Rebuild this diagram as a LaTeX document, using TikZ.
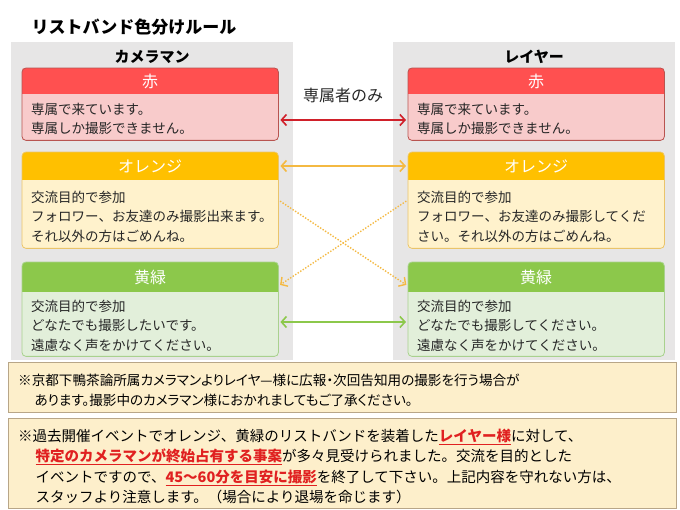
\documentclass[tikz,border=0pt]{standalone}
\usepackage{fontspec}
\setmainfont{Noto Sans CJK JP}
\newfontfamily\propfont{Noto Sans CJK JP}[RawFeature=+palt]
\usetikzlibrary{arrows.meta,calc}
\definecolor{panelgrey}{HTML}{E7E6E6}
\definecolor{redhead}{HTML}{FF5050}
\definecolor{redbody}{HTML}{F8CBCB}
\definecolor{redline}{HTML}{B85450}
\definecolor{redarrow}{HTML}{D0202A}
\definecolor{orghead}{HTML}{FFC000}
\definecolor{orgbody}{HTML}{FFF2CC}
\definecolor{orgline}{HTML}{EAC46A}
\definecolor{orgarrow}{HTML}{F4B942}
\definecolor{grnhead}{HTML}{8CC84B}
\definecolor{grnbody}{HTML}{E2EFDA}
\definecolor{grnline}{HTML}{A9D18E}
\definecolor{grnarrow}{HTML}{8CC84B}
\definecolor{notefill}{HTML}{FDEFCB}
\definecolor{noteline}{HTML}{B8A688}
\definecolor{notered}{HTML}{E02020}
\definecolor{inktext}{HTML}{262626}
\newcommand{\redmark}[1]{\textcolor{notered}{\underline{\textbf{#1}}}}

\begin{document}
\begin{tikzpicture}[
  x=1pt, y=-1pt,
  panel/.style={fill=panelgrey, minimum width=282pt, minimum height=318pt,
    anchor=north west, inner sep=0pt},
  side/.style={font=\fontsize{15}{18}\selectfont\bfseries, text=black},
  band/.style={minimum width=256pt, anchor=north west, inner sep=0pt},
  head/.style={font=\fontsize{16}{19}\selectfont, text=white},
  body/.style={font=\fontsize{13.5}{19.5}\selectfont, text=inktext,
    align=left, anchor=north west, inner sep=0pt},
  pair/.style={{Straight Barb[length=5pt,width=11pt]}-{Straight Barb[length=5pt,width=11pt]},
    line width=1.6pt, shorten <=2pt, shorten >=2pt},
  cross/.style={-{Straight Barb[length=5pt,width=11pt]}, line width=1.4pt,
    dash pattern=on 1.4pt off 1.6pt, shorten <=2pt, shorten >=2pt},
  notebox/.style={fill=notefill, draw=noteline, line width=0.8pt,
    minimum width=668pt, anchor=north west, inner sep=0pt},
  notetext/.style={font=\fontsize{14.5}{20.5}\selectfont, text=black,
    align=left, anchor=north west, inner sep=0pt},
]
\useasboundingbox (0,0) rectangle (680,510);

% ================= title and the two sides ==========================
\node[font=\fontsize{17}{20}\selectfont\bfseries, anchor=west] (title) at (28,27)
  {リストバンド色分けルール};

\node[panel] (camP) at (11,42) {};
\node[panel] (layP) at (393,42) {};
\node[side] (camS) at ([yshift=-15pt]camP.north) {カメラマン};
\node[side] (layS) at ([yshift=-15pt]layP.north) {レイヤー};

% ================= wristband boxes ==================================
\node[band, fill=redbody, minimum height=72pt] (camR) at (22,68) {};
\node[band, fill=redbody, minimum height=72pt] (layR) at (408,68) {};
\node[band, fill=orgbody, minimum height=96pt] (camO) at (22,152) {};
\node[band, fill=orgbody, minimum height=96pt] (layO) at (408,152) {};
\node[band, fill=grnbody, minimum height=94pt] (camG) at (22,262) {};
\node[band, fill=grnbody, minimum height=94pt] (layG) at (408,262) {};

% header bands, outlines and colour names
\foreach \n/\c/\h/\t in {camR/red/26/赤, layR/red/26/赤,
                         camO/org/28/オレンジ, layO/org/28/オレンジ,
                         camG/grn/30/黄緑, layG/grn/30/黄緑} {
  \begin{scope}
    \clip[rounded corners=4pt] (\n.south west) rectangle (\n.north east);
    \fill[\c head] (\n.north west) rectangle ([yshift={-\h*1pt}]\n.north east);
  \end{scope}
  \draw[\c line, line width=0.8pt, rounded corners=4pt]
    (\n.south west) rectangle (\n.north east);
  \node[head] (\n H) at ([yshift={-0.5*\h*1pt}]\n.north) {\t};
}

\node[body] (camRt) at (31,102.5) {専属で来ています。\\専属しか撮影できません。};
\node[body] (layRt) at (417,102.5) {専属で来ています。\\専属しか撮影できません。};
\node[body] (camOt) at (31,190.5)
  {交流目的で参加\\フォロワー、お友達のみ撮影出来ます。\\それ以外の方はごめんね。};
\node[body] (layOt) at (417,190.5)
  {交流目的で参加\\フォロワー、お友達のみ撮影してくだ\\さい。それ以外の方はごめんね。};
\node[body] (camGt) at (31,299.5)
  {交流目的で参加\\どなたでも撮影したいです。\\遠慮なく声をかけてください。};
\node[body] (layGt) at (417,299.5)
  {交流目的で参加\\どなたでも撮影してください。\\遠慮なく声をかけてください。};

% ================= who may photograph whom ==========================
\node[font=\fontsize{16}{19}\selectfont, text=inktext] (excl) at (343,95) {専属者のみ};
\draw[pair, redarrow] ([yshift=-52pt]camR.north east) -- ([yshift=-52pt]layR.north west);
\draw[pair, orgarrow] ([yshift=-14pt]camO.north east) -- ([yshift=-14pt]layO.north west);
\draw[pair, grnarrow] ([yshift=-60pt]camG.north east) -- ([yshift=-60pt]layG.north west);
\draw[cross, orgarrow] ([yshift=-48pt]camO.north east) -- ([yshift=-24pt]layG.north west);
\draw[cross, orgarrow] ([yshift=-48pt]layO.north west) -- ([yshift=-24pt]camG.north east);

% ================= notes ============================================
\node[notebox, minimum height=50pt] (note1) at (8,362) {};
\node[notetext, font={\propfont\fontsize{13.6}{20}\selectfont}] (note1t) at (18,374)
  {※京都下鴨茶論所属カメラマンよりレイヤ—様に広報・次回告知用の撮影を行う場合が\\
   \hspace*{1.2em}あります。撮影中のカメラマン様におかれましてもご了承ください。};

\node[notebox, minimum height=90pt] (note2) at (8,418) {};
\node[notetext] (note2t) at (18,428.5)
  {※過去開催イベントでオレンジ、黄緑のリストバンドを装着した\redmark{レイヤー様}に対して、\\
   \hspace*{1.2em}\redmark{特定のカメラマンが終始占有する事案}が多々見受けられました。交流を目的とした\\
   \hspace*{1.2em}イベントですので、\redmark{45～60分を目安に撮影}を終了して下さい。上記内容を守れない方は、\\
   \hspace*{1.2em}スタッフより注意します。（場合により退場を命じます）};

\end{tikzpicture}
\end{document}
